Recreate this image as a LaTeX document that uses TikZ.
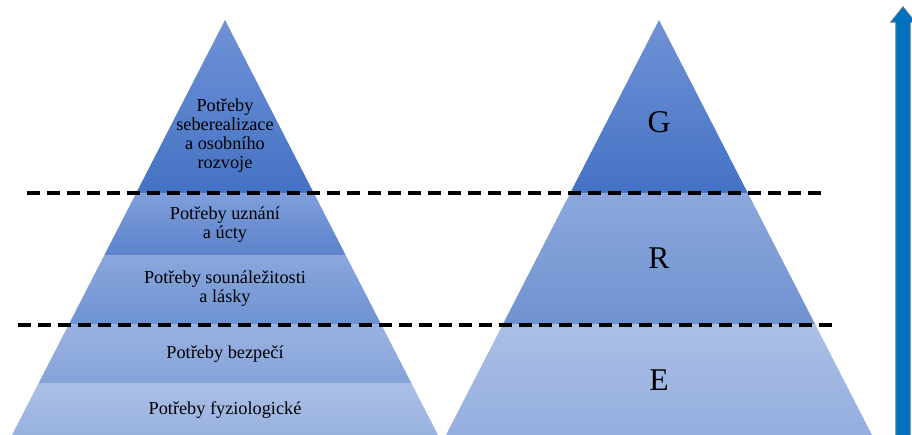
\documentclass[tikz,border=0pt]{standalone}
\usepackage{fontspec}
\setmainfont{Liberation Serif}
\usepackage{tikz}
\definecolor{arrowblue}{HTML}{0070C0}
\definecolor{arrowline}{HTML}{41719C}
\begin{document}
\begin{tikzpicture}[x=0.02cm,y=-0.02cm,bandstyle/.style 2 args={top color=#1,bottom color=#2,draw=none},textstyle/.style={align=center,inner sep=0pt,font=\fontsize{10.4}{10.8}\selectfont},letterstyle/.style={inner sep=0pt,font=\fontsize{18}{20}\selectfont},dashstyle/.style={line width=2pt,dash pattern=on 7.4pt off 4pt}]
    \useasboundingbox (0,0) rectangle (912,435);
    % left pyramid
    \path[bandstyle={{rgb,255:red,112;green,146;blue,214}}{{rgb,255:red,68;green,114;blue,196}}] (225,20)--(313.8,193)--(136.2,193)--cycle;
    \path[bandstyle={{rgb,255:red,128;green,159;blue,219}}{{rgb,255:red,91;green,130;blue,203}}] (136.2,193)--(313.8,193)--(345.6,255)--(104.4,255)--cycle;
    \path[bandstyle={{rgb,255:red,139;green,167;blue,221}}{{rgb,255:red,110;green,147;blue,209}}] (104.4,255)--(345.6,255)--(381,324)--(69,324)--cycle;
    \path[bandstyle={{rgb,255:red,154;green,178;blue,226}}{{rgb,255:red,133;green,163;blue,217}}] (69,324)--(381,324)--(411.3,383)--(38.7,383)--cycle;
    \path[bandstyle={{rgb,255:red,171;green,191;blue,230}}{{rgb,255:red,152;green,178;blue,224}}] (38.7,383)--(411.3,383)--(438,435)--(12,435)--cycle;
    % right pyramid
    \path[bandstyle={{rgb,255:red,112;green,146;blue,214}}{{rgb,255:red,68;green,114;blue,196}}] (659,20)--(747.8,193)--(570.2,193)--cycle;
    \path[bandstyle={{rgb,255:red,140;green,168;blue,221}}{{rgb,255:red,111;green,146;blue,208}}] (570.2,193)--(747.8,193)--(815,324)--(503,324)--cycle;
    \path[bandstyle={{rgb,255:red,171;green,191;blue,230}}{{rgb,255:red,148;green,174;blue,223}}] (503,324)--(815,324)--(872,435)--(446,435)--cycle;
    % dashed borders
    \coordinate (d1) at (27,193);
    \coordinate (d2) at (823,193);
    \coordinate (d3) at (18,325);
    \coordinate (d4) at (837,325);
    \draw[dashstyle] (d1)--(d2);
    \draw[dashstyle] (d3)--(d4);
    % texts
    \node (p1) at (225,136)[textstyle]{Potřeby\\seberealizace\\a osobního\\rozvoje};
    \node (p2) at (225,225)[textstyle]{Potřeby uznání\\a úcty};
    \node (p3) at (225,289)[textstyle]{Potřeby sounáležitosti\\a lásky};
    \node (p4) at (225,354)[textstyle]{Potřeby bezpečí};
    \node (p5) at (225,410)[textstyle]{Potřeby fyziologické};
    \node (g) at (659,122)[letterstyle]{G};
    \node (r) at (659,258)[letterstyle]{R};
    \node (e) at (659,380)[letterstyle]{E};
    % arrow
    \draw[fill=arrowblue,draw=arrowline,line width=0.6pt] (896,440)--(896,22)--(891,22)--(903,7)--(915,22)--(910,22)--(910,440)--cycle;
\end{tikzpicture}
\end{document}
